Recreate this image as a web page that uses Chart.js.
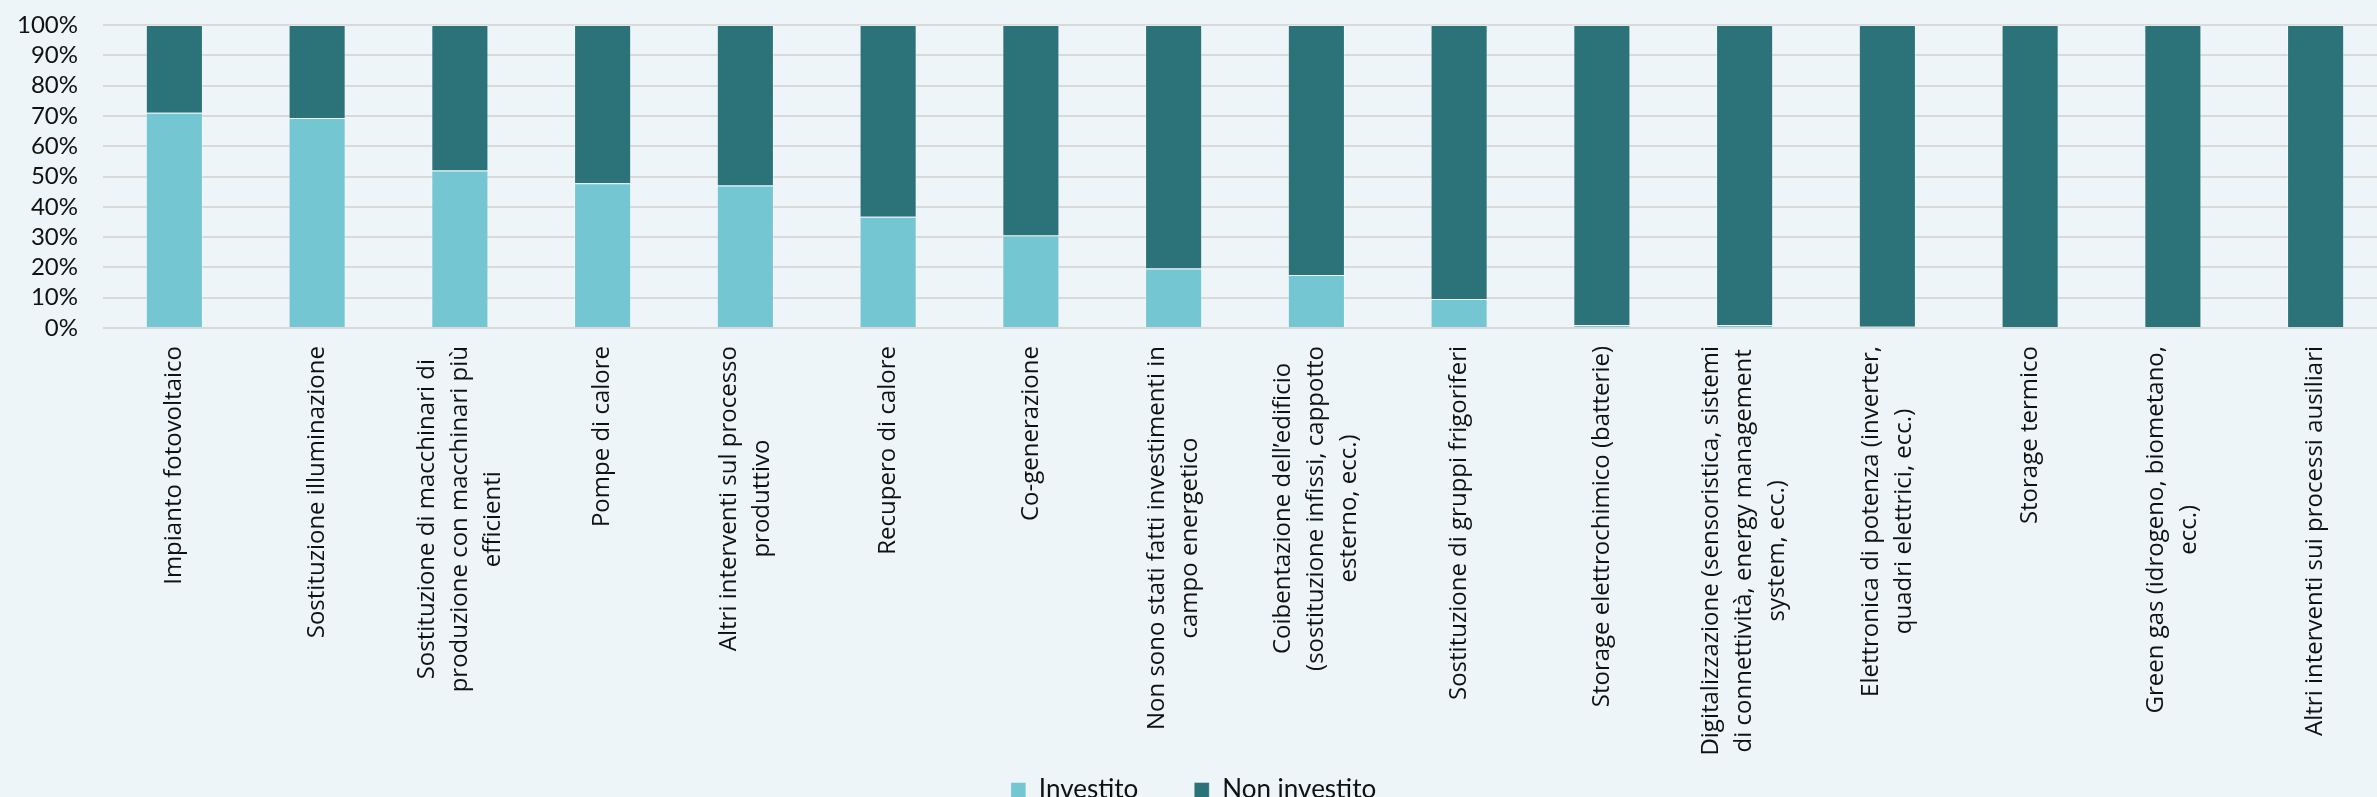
<!DOCTYPE html>
<html lang="it">
<head>
<meta charset="UTF-8">
<title>Investimenti in campo energetico</title>
<script src="https://cdn.jsdelivr.net/npm/chart.js@4.4.1/dist/chart.umd.min.js"></script>
<style>
  html, body { margin: 0; padding: 0; background: #edf5f8; overflow: hidden; }
  .chart-box { position: relative; width: 2390px; height: 813px; }
</style>
</head>
<body>
<div class="chart-box"><canvas id="investimentiChart"></canvas></div>
<script>
// Categorie di intervento (gli array sono le righe dell'etichetta)
const categorie = [
  "Impianto fotovoltaico",
  "Sostituzione illuminazione",
  ["Sostituzione di macchinari di", "produzione con macchinari più", "efficienti"],
  "Pompe di calore",
  ["Altri interventi sul processo", "produttivo"],
  "Recupero di calore",
  "Co-generazione",
  ["Non sono stati fatti investimenti in", "campo energetico"],
  ["Coibentazione dell’edificio", "(sostituzione infissi, cappotto", "esterno, ecc.)"],
  "Sostituzione di gruppi frigoriferi",
  "Storage elettrochimico (batterie)",
  ["Digitalizzazione (sensoristica, sistemi", "di connettività, energy management", "system, ecc.)"],
  ["Elettronica di potenza (inverter,", "quadri elettrici, ecc.)"],
  "Storage termico",
  ["Green gas (idrogeno, biometano,", "ecc.)"],
  "Altri interventi sui processi ausiliari"
];

// Quote percentuali per categoria
const investito = [71, 69.3, 52, 47.8, 47, 36.7, 30.5, 19.6, 17.5, 9.6, 1, 1, 0.4, 0, 0, 0];
const nonInvestito = [29, 30.7, 48, 52.2, 53, 63.3, 69.5, 80.4, 82.5, 90.4, 99, 99, 99.6, 100, 100, 100];

// Tacche dell'asse verticale
const tickY = [0, 10, 20, 30, 40, 50, 60, 70, 80, 90, 100];

const coloreInvestito = "#74c6d2";
const coloreNonInvestito = "#2c7279";
const coloreTesto = "#111111";

// Etichette dell'asse X ruotate, con le righe centrate tra loro
const etichetteAsseX = {
  id: "etichetteAsseX",
  afterDraw(chart) {
    const ctx = chart.ctx;
    const scaleX = chart.scales.x;
    const top = chart.chartArea.bottom + 18;
    const interlinea = 33;

    ctx.save();
    ctx.font = '24px "Open Sans"';
    ctx.fillStyle = coloreTesto;
    ctx.textAlign = "center";
    ctx.textBaseline = "middle";

    categorie.forEach((etichetta, i) => {
      const righe = Array.isArray(etichetta) ? etichetta : [etichetta];
      const larghezza = Math.max(...righe.map((r) => ctx.measureText(r).width));
      const cx = scaleX.getPixelForValue(i);
      const cy = top + larghezza / 2;

      righe.forEach((riga, j) => {
        ctx.save();
        ctx.translate(cx + (j - (righe.length - 1) / 2) * interlinea, cy);
        ctx.rotate(-Math.PI / 2);
        ctx.fillText(riga, 0, 0);
        ctx.restore();
      });
    });
    ctx.restore();
  }
};

function disegnaGrafico() {
  const ctx = document.getElementById("investimentiChart");

  new Chart(ctx, {
    type: "bar",
    data: {
      labels: categorie,
      datasets: [
        {
          label: "Investito",
          data: investito,
          backgroundColor: coloreInvestito,
          borderColor: "rgba(255, 255, 255, 0.35)",
          borderWidth: 1,
          barPercentage: 0.4,
          categoryPercentage: 1
        },
        {
          label: "Non investito",
          data: nonInvestito,
          backgroundColor: coloreNonInvestito,
          borderColor: "rgba(255, 255, 255, 0.35)",
          borderWidth: 1,
          barPercentage: 0.4,
          categoryPercentage: 1
        }
      ]
    },
    options: {
      responsive: true,
      maintainAspectRatio: false,
      animation: false,
      layout: {
        padding: { top: 25, right: 3, left: 0, bottom: 0 }
      },
      scales: {
        x: {
          stacked: true,
          grid: { display: false },
          border: { display: false },
          ticks: { display: false },
          afterFit: (scale) => { scale.height = 393; }
        },
        y: {
          stacked: true,
          min: 0,
          max: 100,
          afterBuildTicks: (scale) => {
            scale.ticks = tickY.map((v) => ({ value: v }));
          },
          // larghezza fissa e niente margine extra sopra/sotto l'area del grafico
          afterFit: (scale) => {
            scale.width = 103;
            scale.paddingTop = 0;
            scale.paddingBottom = 0;
          },
          grid: { color: "#d9d9d9", lineWidth: 2, drawTicks: false },
          border: { display: false },
          ticks: {
            autoSkip: false,
            padding: 25,
            color: coloreTesto,
            font: { family: "Lato", size: 24 },
            callback: (v) => v + "%"
          }
        }
      },
      plugins: {
        legend: {
          position: "bottom",
          labels: {
            boxWidth: 15,
            boxHeight: 15,
            padding: 56,
            color: coloreTesto,
            font: { family: "Lato", size: 26 }
          }
        },
        tooltip: { enabled: false }
      }
    },
    plugins: [etichetteAsseX]
  });
}

// Attende i font locali prima di disegnare il canvas
document.addEventListener("DOMContentLoaded", function () {
  Promise.all([
    document.fonts.load('24px "Lato"'),
    document.fonts.load('24px "Open Sans"')
  ]).then(disegnaGrafico, disegnaGrafico);
});
</script>
</body>
</html>
